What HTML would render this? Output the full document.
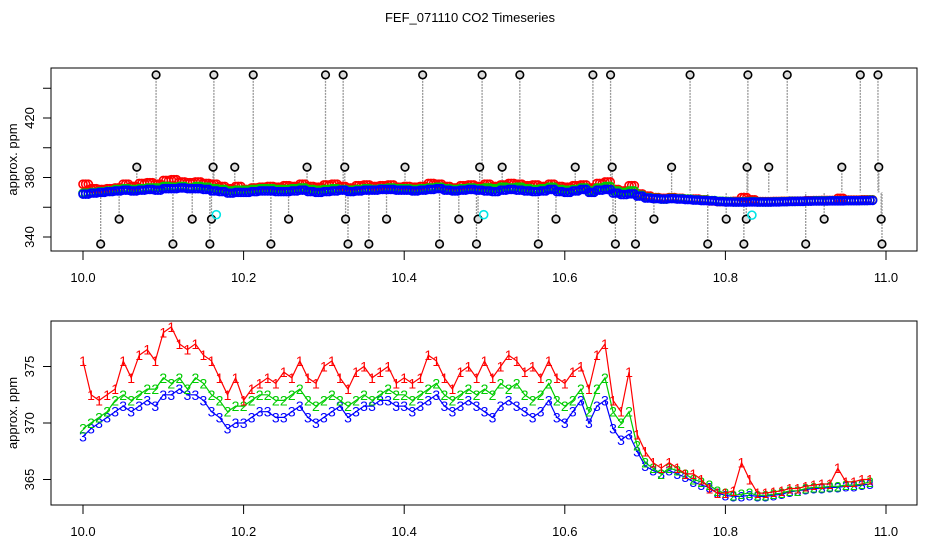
<!DOCTYPE html>
<html><head><meta charset="utf-8"><style>
html,body{margin:0;padding:0;background:#fff;}
svg{display:block;font-family:"Liberation Sans",sans-serif;}
</style></head><body>
<svg id="chart" width="936" height="540" viewBox="0 0 936 540" xmlns="http://www.w3.org/2000/svg">
<rect width="936" height="540" fill="#fff"/>
<text x="470" y="22" font-size="13" text-anchor="middle">FEF_071110  CO2 Timeseries</text>
<g id="top"></g>
<g id="bot"></g>
</svg>
<script>
const xStart = 10.0, xStep = 0.01;
const xTicks = [10.0, 10.2, 10.4, 10.6, 10.8, 11.0];
const xTickLabels = ["10.0","10.2","10.4","10.6","10.8","11.0"];
const topYTicks = [340, 360, 380, 400, 420, 440];
const topYLabels = ["340","","380","","420",""];
const botYTicks = [365, 370, 375];
const botYLabels = ["365","370","375"];
const series1 = [375.5,372.5,372,372.5,373,375.5,374,376,376.5,375.5,378,378.5,377,376.5,377,376,375.5,374,372.5,374,372,373,373.5,374,373.5,374.5,374,375.5,374,373.5,375,375.5,374,373,374.5,375,374,374.5,375,373.5,374,373.5,374,376,375.5,374,373,374.5,375,374,375.5,374,375,376,375.5,374.5,375,374,375.5,374,373.5,374.5,375,373,376,377,372,371,374.5,369,367.5,366.5,366,366.5,366,365.5,365.5,365,364.2,363.8,363.8,364,366.5,365,363.8,363.8,363.9,364,364.2,364.2,364.4,364.5,364.6,364.6,366,364.8,364.8,365,365];
const series2 = [369.5,370,370.5,371,372,372.5,372,372.5,373,373,374,373.5,374,373,374,373.5,372.5,372,371,371.5,371.5,372,372.5,372.5,372,372,372.5,373,372,371.5,372,372.5,372,371.5,372,372.5,372,372.5,373,372.5,372.5,372,372.5,373,373.5,372.5,372,372.5,373,372.5,373,372.5,373.5,373,373.5,372.5,372,372.5,373.5,372,371.5,372,373,371,373,374,371,370,371,368,366.5,366,365.5,366,365.8,365.5,365,364.8,364.5,364,363.8,363.6,363.7,363.8,363.6,363.6,363.7,363.8,364,364,364.2,364.3,364.3,364.4,364.4,364.5,364.5,364.6,364.8];
const series3 = [368.8,369.5,370,370.5,371,371.5,371,371.5,372,371.5,372.5,372.5,373,372.5,372.5,372,371,370.5,369.5,370,370,370.5,371,371,370.5,370.5,371,371.5,370.5,370,370.5,371,371.5,370.5,371,371.5,371.5,372,372,371.5,371.5,371,371.5,372,372.5,371.5,371,371.5,372,371.5,371,370.5,371.5,372,371.5,371,370.5,371,372,370.5,370,371,372,370,371.5,372,369.5,368.5,369,367.5,366.2,365.8,365.5,365.8,365.5,365.2,364.8,364.5,364.3,363.8,363.6,363.5,363.5,363.6,363.5,363.5,363.6,363.7,363.9,364,364.1,364.2,364.2,364.3,364.3,364.4,364.4,364.5,364.6];
const outlierX = [10.091,10.163,10.212,10.302,10.324,10.423,10.497,10.544,10.635,10.657,10.756,10.828,10.877,10.968,10.99,
 10.067,10.162,10.189,10.279,10.326,10.401,10.494,10.522,10.613,10.659,10.733,10.827,10.854,10.945,10.991,
 10.045,10.136,10.16,10.256,10.327,10.378,10.468,10.492,10.589,10.66,10.711,10.801,10.826,10.923,10.994,
 10.022,10.112,10.158,10.234,10.33,10.356,10.444,10.49,10.567,10.663,10.688,10.778,10.823,10.9,10.995];
const outlierY = [449,449,449,449,449,449,449,449,449,449,449,449,449,449,449,
 387,387,387,387,387,387,387,387,387,387,387,387,387,387,387,
 352,352,352,352,352,352,352,352,352,352,352,352,352,352,352,
 335.3,335.3,335.3,335.3,335.3,335.3,335.3,335.3,335.3,335.3,335.3,335.3,335.3,335.3,335.3];
const cyanX = [10.166, 10.499, 10.833];
const cyanY = [355, 355, 354.7];

const NS="http://www.w3.org/2000/svg";
function mk(parent, tag, attrs){const e=document.createElementNS(NS,tag);for(const k in attrs)e.setAttribute(k,attrs[k]);parent.appendChild(e);return e;}
const xs = v => 83 + (v-10)*803;
const yTop = v => 237 - (v-340)*1.4875;
const yBot = v => 423 - (v-370)*11.3;

function axes(g, top, bottom, yFn, ticks, labels, name){
  const box = mk(g,'rect',{x:51,y:top,width:866,height:bottom-top,fill:'none',stroke:'#000','stroke-width':1});
  
  
  const xl = mk(g,'line',{x1:xs(10),x2:xs(11),y1:bottom,y2:bottom,stroke:'#000'});
  
  
  xTicks.forEach((t,i)=>{
    const tk = mk(g,'line',{x1:xs(t),x2:xs(t),y1:bottom,y2:bottom+9,stroke:'#000'});
    
    
    const tl = mk(g,'text',{x:xs(t),y:bottom+31,'font-size':13,'text-anchor':'middle'});
    tl.textContent = xTickLabels[i];
    
    
  });
  ticks.forEach((t,i)=>{
    const y=yFn(t);
    const tk = mk(g,'line',{x1:43,x2:51,y1:y,y2:y,stroke:'#000'});
    
    
    if(labels[i]){
      const tl = mk(g,'text',{x:34,y:y,'font-size':13,'text-anchor':'middle',transform:`rotate(-90 34 ${y})`});
      tl.textContent = labels[i];
      
      
    }
  });
  const cy=(top+bottom)/2;
  const at = mk(g,'text',{x:17,y:cy,'font-size':13,'text-anchor':'middle',transform:`rotate(-90 17 ${cy})`});
  at.textContent='approx. ppm';
  
  
}

// top panel
const gT=document.getElementById('top');
axes(gT,68,251,yTop,topYTicks,topYLabels,'top');
outlierX.forEach((x,i)=>{
  const l=mk(gT,'line',{x1:xs(x),x2:xs(x),y1:yTop(outlierY[i]),y2:yTop(370),stroke:'#999','stroke-width':1.3,'stroke-dasharray':'2,1'});
  
  
});
[[series1,'#ff0000'],[series2,'#00cc00'],[series3,'#0000ff']].forEach(([s,c],si)=>{
  s.forEach((v,i)=>{
    [0,0.33,0.66].forEach(o=>{
      const cx = xs(xStart+(i+o)*xStep);
      if(cx>xs(10.985)) return;
      const ci=mk(gT,'circle',{cx:cx,cy:yTop(v),r:4,fill:'none',stroke:c,'stroke-width':1.6});
      
      
    });
  });
});
outlierX.forEach((x,i)=>{
  const ci=mk(gT,'circle',{cx:xs(x),cy:yTop(outlierY[i]),r:3.8,fill:'#ddd',stroke:'#000','stroke-width':1.6});
  
  
});
cyanX.forEach((x,i)=>{
  const ci=mk(gT,'circle',{cx:xs(x),cy:yTop(cyanY[i]),r:4,fill:'none',stroke:'#00e5e5','stroke-width':1.6});
  
  
});

// bottom panel
const gB=document.getElementById('bot');
axes(gB,321,505,yBot,botYTicks,botYLabels,'bottom');
[[series3,'#0000ff','3'],[series2,'#00cc00','2'],[series1,'#ff0000','1']].forEach(([s,c,ch])=>{
  const pts=s.map((v,i)=>xs(xStart+i*xStep).toFixed(1)+','+yBot(v).toFixed(1)).join(' ');
  const pl=mk(gB,'polyline',{points:pts,fill:'none',stroke:c,'stroke-width':1.2});
  
  
  s.forEach((v,i)=>{
    const t=mk(gB,'text',{x:xs(xStart+i*xStep),y:yBot(v)+5,'font-size':14,'text-anchor':'middle',fill:c});
    t.textContent=ch;
    
    
  });
});
</script>
</body></html>
